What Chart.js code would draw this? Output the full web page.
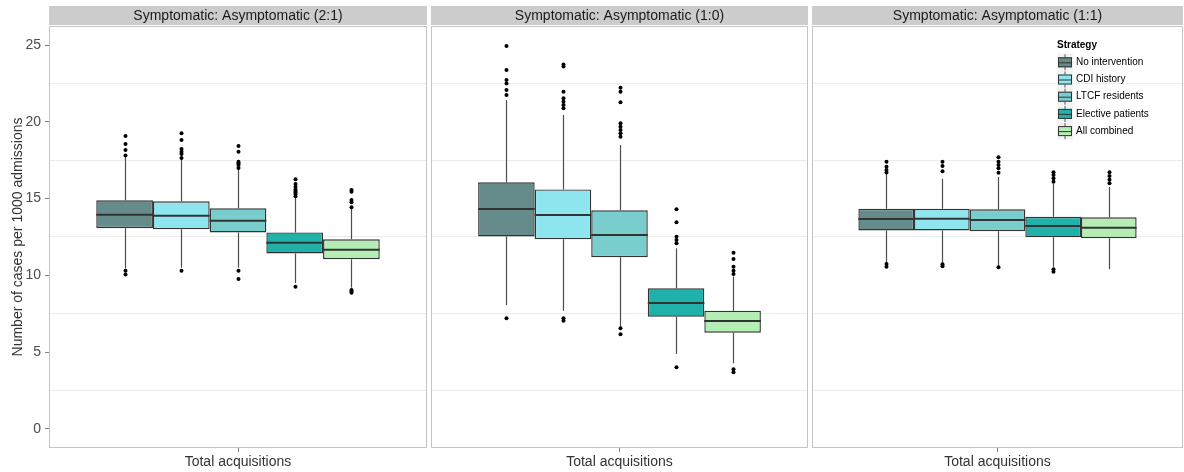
<!DOCTYPE html>
<html>
<head>
<meta charset="utf-8">
<script src="https://cdn.jsdelivr.net/npm/chart.js@4.4.1/dist/chart.umd.min.js"></script>
<style>
	html, body { margin: 0; padding: 0; background: #ffffff; }
	#wrap { position: relative; width: 1184px; height: 472px; overflow: hidden; }
	#wrap canvas { position: absolute; top: 0; }
</style>
</head>
<body>
<div id="wrap"></div>
<script>
// Categories / labels
const strategies = ["No intervention", "CDI history", "LTCF residents", "Elective patients", "All combined"];
const strategyColors = ["#668B8B", "#8EE5EE", "#79CDCD", "#20B2AA", "#B4EEB4"];
const panelTitles = ["Symptomatic: Asymptomatic (2:1)", "Symptomatic: Asymptomatic (1:0)", "Symptomatic: Asymptomatic (1:1)"];
const xLabels = ["Total acquisitions"];
const yTicks = [0, 5, 10, 15, 20, 25];
const yGridLines = [2.5, 7.5, 12.5, 17.5, 22.5];

// Box statistics, one row per panel, one value per strategy
const lowerWhisker = [
	[10.45, 10.5, 10.5, 9.5, 9.2],
	[8.07, 7.7, 6.66, 4.88, 4.28],
	[10.79, 10.79, 10.57, 10.57, 10.4],
];
const q1 = [
	[13.07, 13.0, 12.8, 11.43, 11.05],
	[12.54, 12.35, 11.18, 7.31, 6.27],
	[12.93, 12.93, 12.87, 12.48, 12.42],
];
const median = [
	[13.95, 13.89, 13.56, 12.13, 11.67],
	[14.32, 13.93, 12.63, 8.2, 7.03],
	[13.67, 13.69, 13.61, 13.22, 13.11],
];
const q3 = [
	[14.89, 14.82, 14.37, 12.8, 12.35],
	[16.06, 15.6, 14.24, 9.16, 7.7],
	[14.34, 14.34, 14.3, 13.82, 13.78],
];
const upperWhisker = [
	[17.7, 17.55, 16.9, 15.05, 14.35],
	[21.42, 20.44, 18.49, 11.76, 9.92],
	[16.6, 16.3, 16.4, 15.95, 15.75],
];
const outliers = [
	[
		[19.07, 18.55, 18.16, 17.8, 10.3, 10.05],
		[19.25, 18.82, 18.23, 18.05, 17.9, 17.65, 10.3],
		[18.42, 18.05, 17.4, 17.3, 17.19, 17.0, 10.3, 9.77],
		[16.26, 15.95, 15.78, 15.6, 15.5, 15.4, 15.3, 15.15, 9.26],
		[15.56, 15.45, 14.91, 14.76, 14.43, 9.05, 8.95, 8.87],
	],
	[
		[24.93, 23.37, 22.72, 22.5, 22.07, 21.74, 7.21],
		[23.74, 23.6, 21.96, 21.53, 21.31, 21.09, 20.88, 7.21, 7.05],
		[22.22, 21.96, 21.27, 19.9, 19.68, 19.47, 19.25, 19.03, 6.56, 6.17],
		[14.3, 13.46, 12.52, 12.3, 12.09, 4.02],
		[11.48, 11.07, 10.57, 10.31, 10.09, 3.89, 3.7],
	],
	[
		[17.4, 17.08, 16.86, 16.7, 10.74, 10.57],
		[17.4, 17.13, 16.78, 10.72, 10.6],
		[17.69, 17.4, 17.19, 16.97, 16.69, 10.53],
		[16.71, 16.54, 16.32, 16.1, 10.4, 10.24],
		[16.71, 16.47, 16.23, 16.0],
	],
];

const Y_MIN = -1.24;
const Y_MAX = 26.24;
const FONT = '"Liberation Sans", Arial, sans-serif';

// canvas placement for each facet: [left, width, padLeft, padRight]
const facetBoxes = [
	[0, 429, 0, 2],
	[429, 381, 2, 2],
	[810, 374, 2, 1],
];

// draws strip, whiskers, medians, outliers, panel border, legend
const facetPlugin = {
	id: "facet",
	beforeDraw(chart, args, opts) {
		const { ctx, chartArea: a } = chart;
		ctx.save();
		ctx.fillStyle = "#cccccc";
		ctx.fillRect(a.left, 6, a.right - a.left, a.top - 7);
		ctx.fillStyle = "#1a1a1a";
		ctx.font = "14px " + FONT;
		ctx.textAlign = "center";
		ctx.textBaseline = "middle";
		ctx.fillText(opts.title, (a.left + a.right) / 2, 16.5);
		ctx.restore();
	},
	beforeDatasetsDraw(chart, args, opts) {
		const { ctx } = chart;
		const yS = chart.scales.y;
		const p = opts.panel;
		ctx.save();
		ctx.strokeStyle = "#4d4d4d";
		ctx.lineWidth = 1.2;
		chart.data.datasets.forEach((ds, i) => {
			const bar = chart.getDatasetMeta(i).data[0];
			const x = Math.round(bar.x) + 0.5;
			ctx.beginPath();
			ctx.moveTo(x, yS.getPixelForValue(q3[p][i]));
			ctx.lineTo(x, yS.getPixelForValue(upperWhisker[p][i]));
			ctx.moveTo(x, yS.getPixelForValue(q1[p][i]));
			ctx.lineTo(x, yS.getPixelForValue(lowerWhisker[p][i]));
			ctx.stroke();
		});
		ctx.restore();
	},
	afterDatasetsDraw(chart, args, opts) {
		const { ctx, chartArea: a } = chart;
		const yS = chart.scales.y;
		const p = opts.panel;
		ctx.save();
		chart.data.datasets.forEach((ds, i) => {
			const bar = chart.getDatasetMeta(i).data[0];
			// median
			const my = yS.getPixelForValue(median[p][i]);
			ctx.strokeStyle = "#333333";
			ctx.lineWidth = 2;
			ctx.beginPath();
			ctx.moveTo(bar.x - bar.width / 2, my);
			ctx.lineTo(bar.x + bar.width / 2, my);
			ctx.stroke();
			// outliers
			ctx.fillStyle = "#000000";
			outliers[p][i].forEach((v) => {
				ctx.beginPath();
				ctx.arc(Math.round(bar.x) + 0.5, yS.getPixelForValue(v), 2, 0, Math.PI * 2);
				ctx.fill();
			});
		});
		// panel border
		ctx.strokeStyle = "#c4c4c4";
		ctx.lineWidth = 1;
		ctx.strokeRect(a.left + 0.5, a.top + 0.5, a.right - a.left - 1, a.bottom - a.top - 1);

		if (opts.legend) {
			const lx = a.right - 126;
			const ly = a.top + 19;
			ctx.fillStyle = "#000000";
			ctx.font = "bold 10px " + FONT;
			ctx.textAlign = "left";
			ctx.textBaseline = "middle";
			ctx.fillText("Strategy", lx, ly);
			strategies.forEach((name, i) => {
				const cy = ly + 17.3 + i * 17.2;
				ctx.fillStyle = "#f2f2f2";
				ctx.fillRect(lx, cy - 8.5, 16, 17);
				ctx.strokeStyle = "#555555";
				ctx.lineWidth = 1;
				ctx.beginPath();
				ctx.moveTo(lx + 8, cy - 8);
				ctx.lineTo(lx + 8, cy + 8);
				ctx.stroke();
				ctx.fillStyle = strategyColors[i];
				ctx.fillRect(lx + 1, cy - 5, 14, 10);
				ctx.strokeStyle = "#333333";
				ctx.strokeRect(lx + 1.5, cy - 4.5, 13, 9);
				ctx.beginPath();
				ctx.moveTo(lx + 1, cy + 0.5);
				ctx.lineTo(lx + 15, cy + 0.5);
				ctx.stroke();
				ctx.fillStyle = "#000000";
				ctx.font = "10px " + FONT;
				ctx.fillText(name, lx + 19, cy);
			});
		}
		ctx.restore();
	},
};

const wrap = document.getElementById("wrap");

panelTitles.forEach((title, p) => {
	const [left, width, padL, padR] = facetBoxes[p];
	const canvas = document.createElement("canvas");
	canvas.width = width;
	canvas.height = 472;
	canvas.style.left = left + "px";
	canvas.style.width = width + "px";
	canvas.style.height = "472px";
	wrap.appendChild(canvas);

	const datasets = strategies.map((name, i) => ({
		label: name,
		data: [[q1[p][i], q3[p][i]]],
		backgroundColor: strategyColors[i],
		borderColor: "#333333",
		borderWidth: 1.4,
		borderSkipped: false,
		categoryPercentage: 0.75,
		barPercentage: 1,
	}));

	const showY = p === 0;

	new Chart(canvas.getContext("2d"), {
		type: "bar",
		data: { labels: xLabels, datasets: datasets },
		options: {
			responsive: false,
			animation: false,
			devicePixelRatio: 1,
			layout: { padding: { left: padL, right: padR, top: 26, bottom: 0 } },
			scales: {
				x: {
					grid: {
						display: true,
						drawOnChartArea: false,
						drawTicks: true,
						tickLength: 4,
						offset: false,
						color: "#7f7f7f",
					},
					border: { display: false },
					ticks: { color: "#333333", font: { family: FONT, size: 14 }, padding: 2 },
					afterFit: (s) => { s.height = 24; },
				},
				y: {
					display: showY,
					min: Y_MIN,
					max: Y_MAX,
					afterBuildTicks: (s) => { s.ticks = yTicks.map((v) => ({ value: v })); },
					grid: {
						display: true,
						drawOnChartArea: false,
						drawTicks: true,
						tickLength: 4,
						color: "#7f7f7f",
					},
					border: { display: false },
					ticks: { color: "#4d4d4d", font: { family: FONT, size: 14 }, padding: 4 },
					title: {
						display: true,
						text: "Number of cases per 1000 admissions",
						color: "#333333",
						font: { family: FONT, size: 14 },
						padding: { top: 10, bottom: 0 },
					},
					afterFit: (s) => { s.width = showY ? 49 : 0; },
				},
				yg: {
					position: "left",
					min: Y_MIN,
					max: Y_MAX,
					afterBuildTicks: (s) => { s.ticks = yGridLines.map((v) => ({ value: v })); },
					grid: { color: "#ebebeb", lineWidth: 1, drawTicks: false },
					border: { display: false },
					ticks: { display: false },
					afterFit: (s) => { s.width = 0; },
				},
			},
			plugins: {
				legend: { display: false },
				tooltip: { enabled: false },
				facet: { title: title, panel: p, legend: p === 2 },
			},
		},
		plugins: [facetPlugin],
	});
});
</script>
</body>
</html>
